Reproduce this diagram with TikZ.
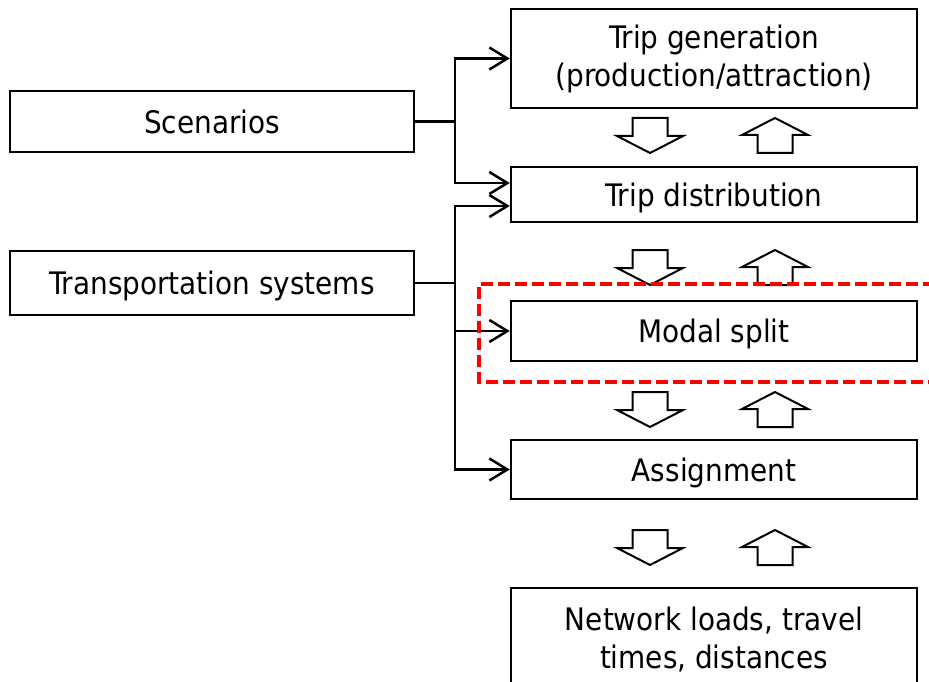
\documentclass[tikz,border=0pt]{standalone}
\usepackage{fontspec}
\setmainfont{DejaVu Sans Condensed}
\usetikzlibrary{arrows.meta}
\begin{document}
\begin{tikzpicture}[x=1pt,y=-1pt,
  box/.style={draw, line width=2.5pt, inner sep=0pt, align=center, font=\fontsize{31}{38}\selectfont},
  one/.style={text depth=0pt},
  conn/.style={line width=2.5pt},
  arr/.style={conn, -{Straight Barb[length=18pt,width=22pt,line width=2.5pt]}},
  blk/.style={draw, line width=2pt, fill=white, line join=miter},
  blkdown/.pic={\path[blk] (-17.5,0) -- (17.5,0) -- (17.5,18) -- (33,18) -- (0,35) -- (-33,18) -- (-17.5,18) -- cycle;},
  blkup/.pic={\path[blk] (0,0) -- (33,17) -- (17.5,17) -- (17.5,35) -- (-17.5,35) -- (-17.5,17) -- (-33,17) -- cycle;}]
\clip (0,0) rectangle (929,682);
\fill[white] (0,0) rectangle (929,682);
\node[box, one, minimum width=404pt, minimum height=61pt] (scen) at (212,121.5) {Scenarios};
\node[box, one, minimum width=404pt, minimum height=64pt] (trans) at (212,283) {Transportation systems};
\node[box, minimum width=406pt, minimum height=99pt] (gen) at (714,58.5) {Trip generation\\(production/attraction)};
\node[box, one, minimum width=406pt, minimum height=55pt] (dist) at (714,194.5) {Trip distribution};
\node[box, one, minimum width=406pt, minimum height=60pt] (modal) at (714,331) {Modal split};
\node[box, one, minimum width=406pt, minimum height=59pt] (assign) at (714,469.5) {Assignment};
\node[box, minimum width=406pt, minimum height=104pt] (net) at (714,640) {Network loads, travel\\times, distances};
\coordinate (b1) at (455,121.5);
\coordinate (b2) at (455,283);
\draw[conn] (scen.east) -- (b1);
\draw[arr] (b1) |- (gen.west);
\draw[arr] (b1) |- ([yshift=11.5pt]dist.west);
\draw[conn] (trans.east) -- (b2);
\draw[arr] (b2) |- ([yshift=-11.5pt]dist.west);
\draw[arr] (b2) |- (modal.west);
\draw[arr] (b2) |- (assign.west);
\foreach \t in {118,250,392,530} {
  \pic at (650,\t) {blkdown};
  \pic at (775,\t) {blkup};
}
\draw[red, line width=3.5pt, dash pattern=on 12pt off 5pt] (935,284) -- (479,284) -- (479,382) -- (935,382);
\end{tikzpicture}
\end{document}
